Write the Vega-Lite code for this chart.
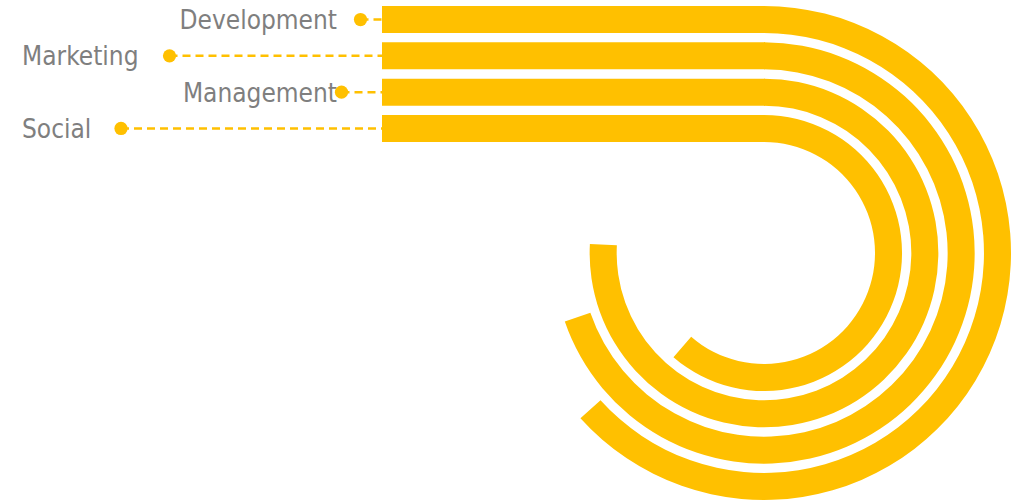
{
  "$schema": "https://vega.github.io/schema/vega-lite/v6.json",
  "width": 1018,
  "height": 504,
  "autosize": {"type": "fit", "contains": "padding"},
  "padding": 0,
  "background": "white",
  "config": {"view": {"stroke": null}, "axis": {"disable": true}},
  "data": {
    "values": [
      {"category": "Development", "value": 228},
      {"category": "Marketing", "value": 251},
      {"category": "Management", "value": 273},
      {"category": "Social", "value": 221}
    ]
  },
  "resolve": {"scale": {"y": "independent"}},
  "layer": [
    {
      "mark": {"type": "bar", "color": "#FFC000"},
      "encoding": {
        "y": {"field": "category", "type": "nominal", "axis": null, "scale": {"type": "band", "domain": ["Development", "Marketing", "Management", "Social"], "range": [6, 142], "paddingInner": 0.256, "paddingOuter": 0}},
        "x": {"datum": 382, "type": "quantitative", "axis": null, "scale": {"type": "linear", "domain": [0, 1018], "range": [0, 1018], "nice": false, "zero": false}},
        "x2": {"datum": 765}
      }
    },
    {
      "mark": {"type": "arc", "color": "#FFC000"},
      "encoding": {
        "theta": {"field": "value", "type": "quantitative", "stack": null, "scale": {"domain": [0, 360], "range": [0, 6.283185307]}},
        "theta2": {"datum": 0},
        "radius": {"field": "category", "type": "nominal", "bandPosition": 1, "scale": {"type": "band", "domain": ["Social", "Management", "Marketing", "Development"], "range": [111, 247], "paddingInner": 0.256, "paddingOuter": 0}},
        "radius2": {"field": "category", "bandPosition": 0},
        "x": {"datum": 764, "type": "quantitative", "axis": null, "scale": {"type": "linear", "domain": [0, 1018], "range": [0, 1018], "nice": false, "zero": false}},
        "y": {"datum": 253, "type": "quantitative", "axis": null, "scale": {"type": "linear", "domain": [0, 504], "range": [0, 504], "nice": false, "zero": false}}
      }
    },
    {
      "transform": [{"filter": {"field": "category", "oneOf": ["Marketing", "Social"]}}],
      "mark": {"type": "text", "align": "left", "baseline": "middle", "dy": 1.5, "font": "DejaVu Sans Condensed", "fontSize": 26, "color": "#7F7F7F"},
      "encoding": {
        "text": {"field": "category"},
        "y": {"field": "category", "type": "nominal", "axis": null, "scale": {"type": "band", "domain": ["Development", "Marketing", "Management", "Social"], "range": [6, 142], "paddingInner": 0.256, "paddingOuter": 0}},
        "x": {"datum": 22, "type": "quantitative", "axis": null, "scale": {"type": "linear", "domain": [0, 1018], "range": [0, 1018], "nice": false, "zero": false}}
      }
    },
    {
      "transform": [{"filter": {"field": "category", "oneOf": ["Development", "Management"]}}],
      "mark": {"type": "text", "align": "right", "baseline": "middle", "dy": 1.5, "font": "DejaVu Sans Condensed", "fontSize": 26, "color": "#7F7F7F"},
      "encoding": {
        "text": {"field": "category"},
        "y": {"field": "category", "type": "nominal", "axis": null, "scale": {"type": "band", "domain": ["Development", "Marketing", "Management", "Social"], "range": [6, 142], "paddingInner": 0.256, "paddingOuter": 0}},
        "x": {"datum": 337, "type": "quantitative", "axis": null, "scale": {"type": "linear", "domain": [0, 1018], "range": [0, 1018], "nice": false, "zero": false}}
      }
    },
    {
      "transform": [{"filter": {"field": "category", "equal": "Development"}}],
      "encoding": {
        "y": {"field": "category", "type": "nominal", "axis": null, "scale": {"type": "band", "domain": ["Development", "Marketing", "Management", "Social"], "range": [6, 142], "paddingInner": 0.256, "paddingOuter": 0}},
        "x": {"datum": 360.5, "type": "quantitative", "axis": null, "scale": {"type": "linear", "domain": [0, 1018], "range": [0, 1018], "nice": false, "zero": false}}
      },
      "layer": [
        {"mark": {"type": "rule", "color": "#FFC000", "strokeWidth": 2.5, "strokeDash": [8, 5]}, "encoding": {"x2": {"datum": 382}}},
        {"mark": {"type": "point", "filled": true, "color": "#FFC000", "opacity": 1, "size": 175}, "encoding": {}}
      ]
    },
    {
      "transform": [{"filter": {"field": "category", "equal": "Marketing"}}],
      "encoding": {
        "y": {"field": "category", "type": "nominal", "axis": null, "scale": {"type": "band", "domain": ["Development", "Marketing", "Management", "Social"], "range": [6, 142], "paddingInner": 0.256, "paddingOuter": 0}},
        "x": {"datum": 169.5, "type": "quantitative", "axis": null, "scale": {"type": "linear", "domain": [0, 1018], "range": [0, 1018], "nice": false, "zero": false}}
      },
      "layer": [
        {"mark": {"type": "rule", "color": "#FFC000", "strokeWidth": 2.5, "strokeDash": [8, 5]}, "encoding": {"x2": {"datum": 382}}},
        {"mark": {"type": "point", "filled": true, "color": "#FFC000", "opacity": 1, "size": 175}, "encoding": {}}
      ]
    },
    {
      "transform": [{"filter": {"field": "category", "equal": "Management"}}],
      "encoding": {
        "y": {"field": "category", "type": "nominal", "axis": null, "scale": {"type": "band", "domain": ["Development", "Marketing", "Management", "Social"], "range": [6, 142], "paddingInner": 0.256, "paddingOuter": 0}},
        "x": {"datum": 341.5, "type": "quantitative", "axis": null, "scale": {"type": "linear", "domain": [0, 1018], "range": [0, 1018], "nice": false, "zero": false}}
      },
      "layer": [
        {"mark": {"type": "rule", "color": "#FFC000", "strokeWidth": 2.5, "strokeDash": [8, 5]}, "encoding": {"x2": {"datum": 382}}},
        {"mark": {"type": "point", "filled": true, "color": "#FFC000", "opacity": 1, "size": 175}, "encoding": {}}
      ]
    },
    {
      "transform": [{"filter": {"field": "category", "equal": "Social"}}],
      "encoding": {
        "y": {"field": "category", "type": "nominal", "axis": null, "scale": {"type": "band", "domain": ["Development", "Marketing", "Management", "Social"], "range": [6, 142], "paddingInner": 0.256, "paddingOuter": 0}},
        "x": {"datum": 121, "type": "quantitative", "axis": null, "scale": {"type": "linear", "domain": [0, 1018], "range": [0, 1018], "nice": false, "zero": false}}
      },
      "layer": [
        {"mark": {"type": "rule", "color": "#FFC000", "strokeWidth": 2.5, "strokeDash": [8, 5]}, "encoding": {"x2": {"datum": 382}}},
        {"mark": {"type": "point", "filled": true, "color": "#FFC000", "opacity": 1, "size": 175}, "encoding": {}}
      ]
    }
  ]
}
